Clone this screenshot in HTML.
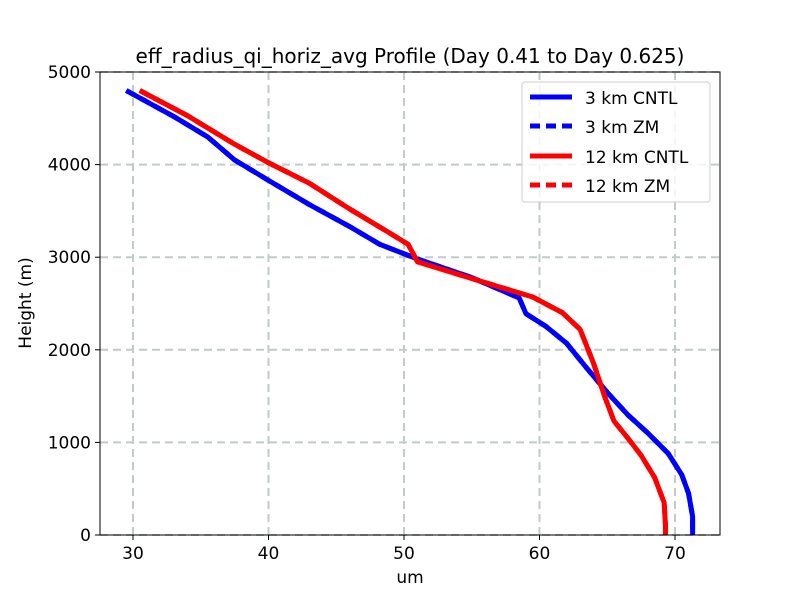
<!DOCTYPE html>
<html><head><meta charset="utf-8"><style>
body{margin:0;background:#fff;font-family:"Liberation Sans","DejaVu Sans",sans-serif;}
svg text{font-family:"DejaVu Sans","Liberation Sans",sans-serif;}
</style></head><body>
<svg id="chart" width="800" height="600" xmlns="http://www.w3.org/2000/svg">
<rect width="800" height="600" fill="#fff"/>
<text x="410" y="63" font-size="20" text-anchor="middle">eff_radius_qi_horiz_avg Profile (Day 0.41 to Day 0.625)</text>
<g id="grid"></g><g id="series"></g>
<rect x="100" y="72" width="620" height="463" fill="none" stroke="#000" stroke-width="1"/>
<g id="ticks"></g>
<text x="410" y="583" font-size="17" text-anchor="middle">um</text>
<text transform="translate(31,303) rotate(-90)" font-size="17" text-anchor="middle">Height (m)</text>
<g>
<rect x="522" y="82" width="188" height="120" rx="3" fill="#fff" fill-opacity="0.8" stroke="#ccc"/>
<line x1="530" y1="97" x2="572" y2="97" stroke="#0000ff" stroke-width="5"/>
<text x="585" y="104" font-size="17">3 km CNTL</text>
<line x1="530" y1="126" x2="572" y2="126" stroke="#0000ff" stroke-width="5" stroke-dasharray="10,6"/>
<text x="585" y="133" font-size="17">3 km ZM</text>
<line x1="530" y1="156" x2="572" y2="156" stroke="#ff0000" stroke-width="5"/>
<text x="585" y="163" font-size="17">12 km CNTL</text>
<line x1="530" y1="185" x2="572" y2="185" stroke="#ff0000" stroke-width="5" stroke-dasharray="10,6"/>
<text x="585" y="192" font-size="17">12 km ZM</text>
</g>
</svg>
<script>
const xTicks=[30,40,50,60,70];
const yTicks=[0,1000,2000,3000,4000,5000];
const blueX=[29.5,33,35.5,37.5,40,43,46,48.2,51,55,58.5,59,60.5,62,63.5,65,66.5,68,69.5,70.5,71,71.3,71.3];
const blueY=[4800,4520,4300,4050,3830,3570,3330,3140,2980,2780,2560,2390,2250,2070,1800,1540,1300,1100,880,650,450,200,0];
const redX=[30.5,34,37.5,40,43,46,48.5,50.3,51,55,59.5,61.7,63,64,64.8,65.5,66.5,67.5,68.5,69.2,69.3,69.3];
const redY=[4800,4530,4220,4020,3800,3520,3300,3140,2950,2770,2570,2400,2220,1850,1500,1230,1050,860,620,350,100,0];
const X=v=>133+(v-30)*13.55;
const Y=v=>535-v*0.0926;
const NS="http://www.w3.org/2000/svg";
const grid=document.getElementById('grid'),ticks=document.getElementById('ticks'),ser=document.getElementById('series');
function mk(tag,attrs,parent){const e=document.createElementNS(NS,tag);for(const k in attrs)e.setAttribute(k,attrs[k]);parent.appendChild(e);return e;}
xTicks.forEach(v=>{
 const g=mk('line',{x1:X(v),x2:X(v),y1:72,y2:535,stroke:'#c2caca','stroke-width':2,'stroke-dasharray':'8,5'},grid);
 
 
 mk('line',{x1:X(v),x2:X(v),y1:535,y2:540,stroke:'#000'},ticks);
 const t=mk('text',{x:X(v),y:559,'font-size':17,'text-anchor':'middle'},ticks);t.textContent=v;
 
 
});
yTicks.forEach(v=>{
 const g=mk('line',{x1:100,x2:720,y1:Y(v),y2:Y(v),stroke:'#c2caca','stroke-width':2,'stroke-dasharray':'8,5'},grid);
 
 
 mk('line',{x1:95,x2:100,y1:Y(v),y2:Y(v),stroke:'#000'},ticks);
 const t=mk('text',{x:91,y:Y(v)+6,'font-size':17,'text-anchor':'end'},ticks);t.textContent=v;
 
 
});
function line(xs,ys,color,dash){const p=mk('polyline',{points:xs.map((x,i)=>X(x)+','+Y(ys[i])).join(' '),fill:'none',stroke:color,'stroke-width':5,'stroke-linejoin':'round'},ser);if(dash)p.setAttribute('stroke-dasharray',dash);return p;}
let p;
p=line(blueX,blueY,'#0000ff','10,6');
p=line(blueX,blueY,'#0000ff');
p=line(redX,redY,'#ff0000','10,6');
p=line(redX,redY,'#ff0000');
</script>
</body></html>
